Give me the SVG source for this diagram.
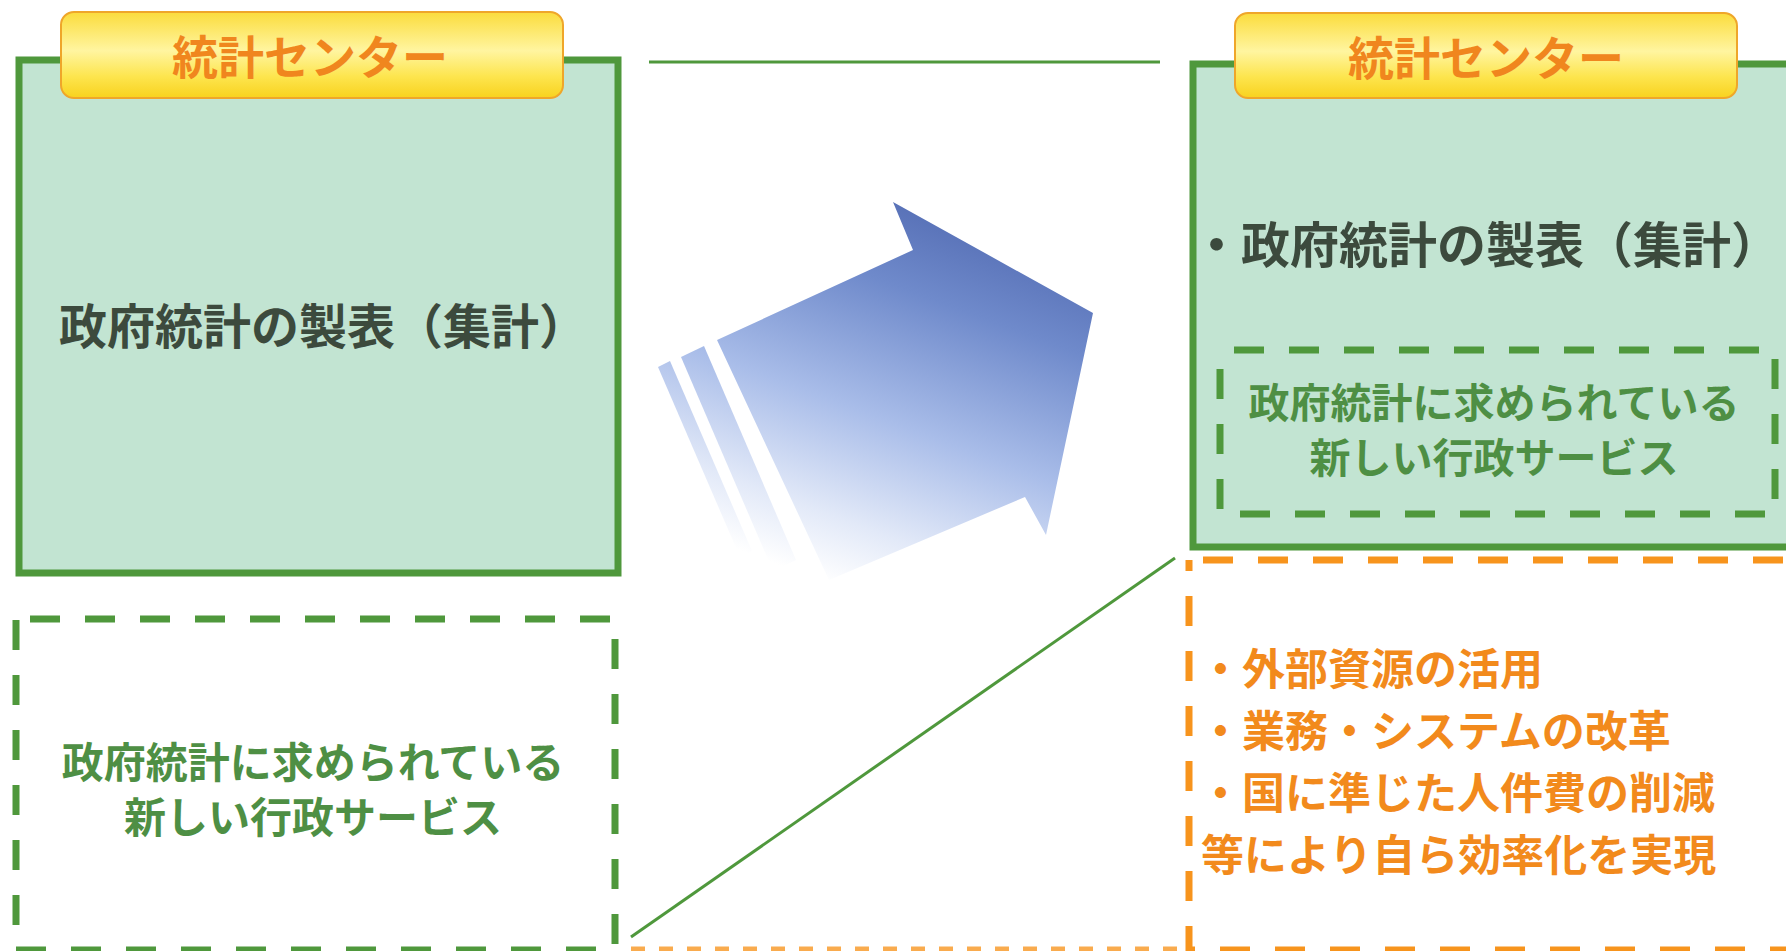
<svg xmlns="http://www.w3.org/2000/svg" width="1786" height="951" viewBox="0 0 1786 951">
  <defs>
    <linearGradient id="labelFill" x1="0" y1="0" x2="0" y2="1">
      <stop offset="0" stop-color="#fbdc3c"/>
      <stop offset="0.45" stop-color="#fff5a0"/>
      <stop offset="0.75" stop-color="#fde54e"/>
      <stop offset="1" stop-color="#f8d21e"/>
    </linearGradient>
    <linearGradient id="arrowFill" gradientUnits="userSpaceOnUse" x1="1010" y1="190" x2="860" y2="595">
      <stop offset="0" stop-color="#4a62ab"/>
      <stop offset="0.3" stop-color="#6f8acb"/>
      <stop offset="0.6" stop-color="#a9bde9"/>
      <stop offset="0.85" stop-color="#e2e9f8"/>
      <stop offset="1" stop-color="#ffffff"/>
    </linearGradient>
    <style>
      .solid { fill: #c2e4d2; stroke: #4f983c; stroke-width: 7; }
      .dashG { fill: none; stroke: #4f983c; stroke-width: 7; stroke-dasharray: 30 25; }
      .dashO { fill: none; stroke: #f7941d; stroke-width: 7; stroke-dasharray: 30 25; }
      .label { fill: url(#labelFill); stroke: #efa62a; stroke-width: 2; }
      .conn { stroke: #4f983c; stroke-width: 3; fill: none; }
      text { font-family: "Noto Sans CJK JP", "Noto Sans CJK SC", sans-serif; font-weight: 700; }
      .lt { font-size: 46px; fill: #f0861e; text-anchor: middle; }
      .main { font-size: 48px; fill: #3c4a3d; }
      .gt { font-size: 42px; fill: #4e8f44; text-anchor: middle; }
      .ot { font-size: 43px; fill: #f28a1c; }
    </style>
  </defs>
  <rect width="1786" height="951" fill="#ffffff"/>

  <g id="left-center">
    <rect class="solid" x="19" y="60" width="599" height="513"/>
    <text class="main" x="59" y="344">政府統計の製表（集計）</text>
  </g>

  <g id="left-label">
    <rect class="label" x="61" y="12" width="502" height="86" rx="13"/>
    <text class="lt" x="310" y="74">統計センター</text>
  </g>

  <g id="left-services">
    <rect class="dashG" x="16" y="619" width="599" height="331" stroke-dashoffset="-14"/>
    <text class="gt" x="313" y="778">政府統計に求められている</text>
    <text class="gt" x="313" y="833">新しい行政サービス</text>
  </g>

  <g id="right-center">
    <rect class="solid" x="1193" y="64" width="620" height="483"/>
    <text class="main" x="1192" y="263" style="font-size:49px">・政府統計の製表（集計）</text>
  </g>

  <g id="right-label">
    <rect class="label" x="1235" y="13" width="502" height="85" rx="13"/>
    <text class="lt" x="1486" y="75">統計センター</text>
  </g>

  <g id="right-services">
    <rect class="dashG" x="1220" y="350" width="555" height="164" stroke-dashoffset="-14"/>
    <text class="gt" x="1494" y="418" style="font-size:41px">政府統計に求められている</text>
    <text class="gt" x="1494" y="473" style="font-size:41px">新しい行政サービス</text>
  </g>

  <g id="efficiency">
    <rect class="dashO" x="1189" y="560" width="640" height="390" stroke-dashoffset="-14"/>
    <line x1="631" y1="950" x2="1178" y2="950" stroke="#f9ab4e" stroke-width="7" stroke-dasharray="14 14"/>
    <text class="ot" x="1199" y="685">・外部資源の活用</text>
    <text class="ot" x="1199" y="747">・業務・システムの改革</text>
    <text class="ot" x="1199" y="809">・国に準じた人件費の削減</text>
    <text class="ot" x="1201" y="871">等により自ら効率化を実現</text>
  </g>

  <g id="arrow">
    <polygon fill="url(#arrowFill)" points="717,340 913,250 893,202 1093,313 1046,535 1025,497 829,580"/>
    <polygon fill="url(#arrowFill)" points="681,357 704,346 796,560 773,571"/>
    <polygon fill="url(#arrowFill)" points="658,367 670,361 752,551 740,557"/>
  </g>

  <g id="connectors">
    <line class="conn" x1="649" y1="62" x2="1160" y2="62"/>
    <line class="conn" x1="631" y1="937" x2="1175" y2="558"/>
  </g>
</svg>
